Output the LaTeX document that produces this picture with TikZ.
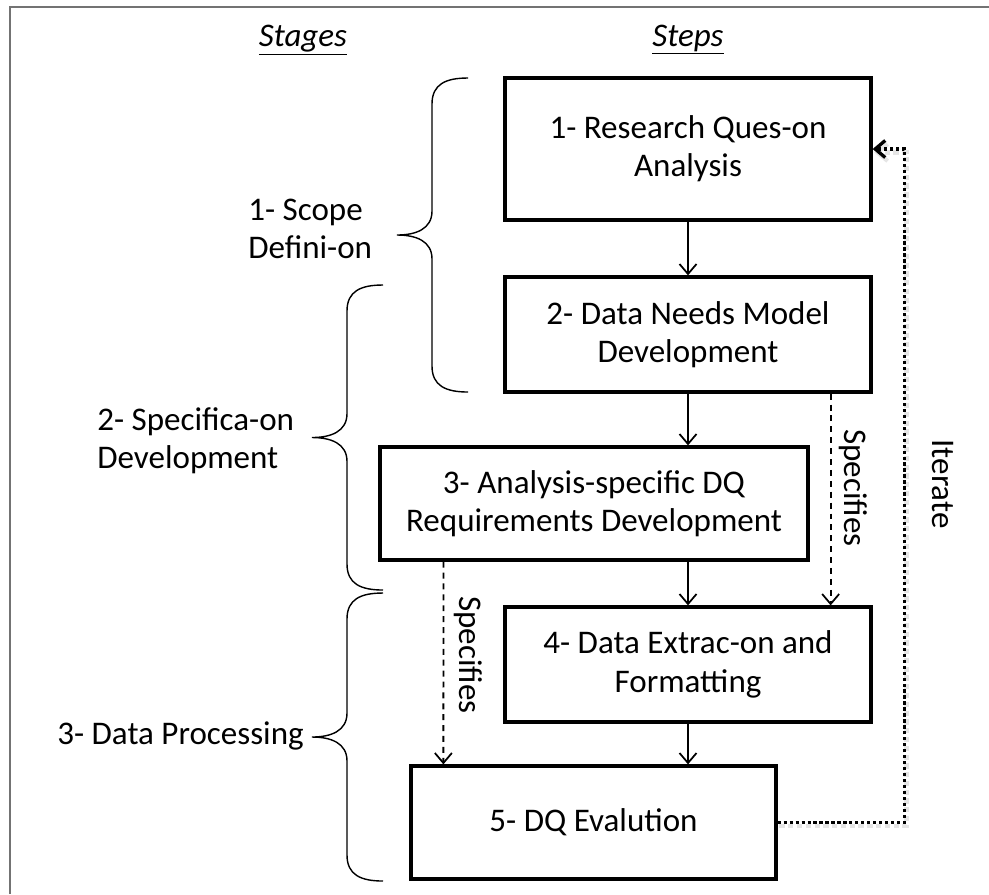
\documentclass[tikz,border=0pt]{standalone}
\usepackage{fontspec}
\setmainfont{Carlito}
\usepackage{tikz}
\usetikzlibrary{arrows.meta,calc}

\begin{document}
\begin{tikzpicture}[x=0.02cm, y=-0.02cm,
  every node/.style={font=\fontsize{18.8}{21.8}\selectfont},
  stepbox/.style={draw, line width=1.9pt, align=center, inner sep=0pt},
  stagelabel/.style={align=left, anchor=west, inner sep=0pt},
  headlabel/.style={anchor=base, font=\fontsize{18.8}{21.8}\selectfont\itshape},
  flow/.style={-{Straight Barb[length=2mm,width=3.4mm]}, line width=1pt},
  specflow/.style={flow, dash pattern=on 3.4pt off 2.8pt},
  iterflow/.style={flow, line width=1.9pt, dash pattern=on 1.8pt off 1.6pt,
    preaction={draw=black!10, line width=2.4pt, dash pattern=on 3pt off 2pt,
      transform canvas={shift={(1pt,-2pt)}}}},
  bracestyle/.style={line width=0.8pt}]
\useasboundingbox (0,0) rectangle (989,894);

% ===== Frame =====
\draw[line width=1.1pt, black!55] (10,894) -- (10,7) -- (989,7);

% ===== Headers =====
\node[headlabel] (hstages) at (303,46) {\underline{Stages}};
\node[headlabel] (hsteps) at (688,46) {\underline{Steps}};

% ===== Steps =====
\node[stepbox, minimum width=7.32cm, minimum height=2.84cm] (b1) at (688,149)
  {1- Research Ques-on\\Analysis};
\node[stepbox, minimum width=7.32cm, minimum height=2.30cm] (b2) at (688,334.5)
  {2- Data Needs Model\\Development};
\node[stepbox, minimum width=8.56cm, minimum height=2.26cm] (b3) at (594,503.5)
  {3- Analysis-specific DQ\\Requirements Development};
\node[stepbox, minimum width=7.32cm, minimum height=2.30cm] (b4) at (688,664.5)
  {4- Data Extrac-on and\\Formatting};
\node[stepbox, minimum width=7.30cm, minimum height=2.26cm] (b5) at (593.5,822.5)
  {5- DQ Evalution};

% main flow
\draw[flow] (b1.south) -- (b2.north);
\draw[flow] (b2.south) -- (b2.south |- b3.north);
\draw[flow] (b4.north |- b3.south) -- (b4.north);
\draw[flow] (b4.south) -- (b4.south |- b5.north);

% specifies links
\draw[specflow] ($(b2.south east)+(-42,0)$) -- ($(b4.north east)+(-42,0)$);
\node[rotate=-90] (spec1) at (853,488) {Specifies};
\draw[specflow] ($(b3.south west)+(65,0)$) -- ($(b5.north west)+(34,0)$);
\node[rotate=-90] (spec2) at (468,655) {Specifies};

% iterate loop
\draw[iterflow] (b5.east) -- ($(b5.east)+(127,0)$) |- (b1.east);
\node[rotate=-90] (iter) at (943,484) {Iterate};

% ===== Stages =====
\foreach \bx/\btop/\bbot in {468/78/392, 383/285/590, 383/593/881} {
  \pgfmathsetmacro{\ymid}{(\btop+\bbot)/2}
  \draw[bracestyle] (\bx,\btop)
    .. controls (\bx-22,\btop) and (\bx-36,\btop+6) .. (\bx-36,\btop+26)
    -- (\bx-36,\ymid-24)
    .. controls (\bx-36,\ymid-6) and (\bx-52,\ymid) .. (\bx-71,\ymid)
    .. controls (\bx-52,\ymid) and (\bx-36,\ymid+6) .. (\bx-36,\ymid+24)
    -- (\bx-36,\bbot-26)
    .. controls (\bx-36,\bbot-6) and (\bx-22,\bbot) .. (\bx,\bbot);
}
\node[stagelabel] (s1) at (248,229) {1- Scope\\Defini-on};
\node[stagelabel] (s2) at (97,441) {2- Specifica-on\\Development};
\node[stagelabel] (s3) at (57,736) {3- Data Processing};

\end{tikzpicture}
\end{document}
